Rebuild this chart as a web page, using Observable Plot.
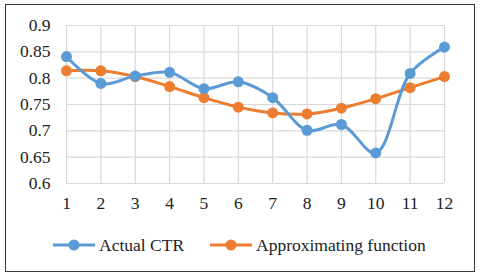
<!DOCTYPE html>
<html>
<head>
<meta charset="utf-8">
<script src="https://cdn.jsdelivr.net/npm/d3@7"></script>
<script src="https://cdn.jsdelivr.net/npm/@observablehq/plot@0.6"></script>
<style>
  html, body { margin: 0; padding: 0; background: #fff; }
  #wrap { position: relative; width: 480px; height: 276px; overflow: hidden; font-family: "Times New Roman", Times, "Liberation Serif", Tinos, "Nimbus Roman", "DejaVu Serif", serif; }
  #frame { position: absolute; left: 5px; top: 4px; width: 470px; height: 268px; box-sizing: border-box; border: 1.5px solid #3a3a3a; pointer-events: none; }
  #chart { position: absolute; left: 0; top: 0; }
  #chart svg, #chart svg text { font-family: "Times New Roman", Times, "Liberation Serif", Tinos, "Nimbus Roman", "DejaVu Serif", serif !important; }
  #legend { position: absolute; left: 0; top: 233px; width: 480px; height: 24px; }
  .item { position: absolute; top: 0; display: flex; align-items: center; font-size: 17.5px; color: #222; }
  .item svg { display: block; margin-right: 4px; }
</style>
</head>
<body>
<div id="wrap">
  <div id="chart"></div>
  <div id="legend"></div>
  <div id="frame"></div>
</div>
<script>
const months = [1, 2, 3, 4, 5, 6, 7, 8, 9, 10, 11, 12];
const actualCTR = [0.841, 0.790, 0.804, 0.811, 0.780, 0.793, 0.763, 0.701, 0.712, 0.658, 0.809, 0.859];
const approxFn = [0.814, 0.814, 0.803, 0.784, 0.763, 0.745, 0.734, 0.732, 0.743, 0.761, 0.782, 0.803];
const yTicks = [0.6, 0.65, 0.7, 0.75, 0.8, 0.85, 0.9];
const seriesNames = ["Actual CTR", "Approximating function"];
const seriesColors = ["#5B9BD5", "#ED7D31"];

const rows = [];
months.forEach((m, i) => {
  rows.push({month: m, value: actualCTR[i], series: seriesNames[0]});
  rows.push({month: m, value: approxFn[i], series: seriesNames[1]});
});

const plot = Plot.plot({
  width: 480,
  height: 226,
  marginLeft: 66,
  marginRight: 36,
  marginTop: 25,
  marginBottom: 43,
  style: { fontSize: "17.5px", color: "#222", background: "transparent" },
  x: { domain: [1, 12], label: null },
  y: { domain: [0.6, 0.9], label: null },
  color: { domain: seriesNames, range: seriesColors },
  marks: [
    Plot.gridX(months, { stroke: "#d9d9d9", strokeOpacity: 1, strokeWidth: 1.2 }),
    Plot.gridY(yTicks, { stroke: "#d9d9d9", strokeOpacity: 1, strokeWidth: 1.2 }),
    Plot.axisX({ ticks: months, tickSize: 0, tickPadding: 13, tickFormat: d => String(d), label: null }),
    Plot.axisY({ ticks: yTicks, tickSize: 0, tickPadding: 16, tickFormat: d => String(+d.toFixed(2)), label: null }),
    Plot.line(rows.filter(r => r.series === seriesNames[1]), { x: "month", y: "value", stroke: "series", strokeWidth: 3, curve: "catmull-rom" }),
    Plot.dot(rows.filter(r => r.series === seriesNames[1]), { x: "month", y: "value", fill: "series", r: 5.5 }),
    Plot.line(rows.filter(r => r.series === seriesNames[0]), { x: "month", y: "value", stroke: "series", strokeWidth: 3, curve: "catmull-rom" }),
    Plot.dot(rows.filter(r => r.series === seriesNames[0]), { x: "month", y: "value", fill: "series", r: 5.5 })
  ]
});
document.getElementById("chart").appendChild(plot);

const legend = document.getElementById("legend");
const lefts = [53, 210];
seriesNames.forEach((name, i) => {
  const item = document.createElement("div");
  item.className = "item";
  item.style.left = lefts[i] + "px";
  item.innerHTML = `<svg width="42" height="24"><line x1="0" x2="42" y1="12" y2="12" stroke="${seriesColors[i]}" stroke-width="3"/><circle cx="21" cy="12" r="5.5" fill="${seriesColors[i]}"/></svg><span>${name}</span>`;
  legend.appendChild(item);
});
</script>
</body>
</html>
